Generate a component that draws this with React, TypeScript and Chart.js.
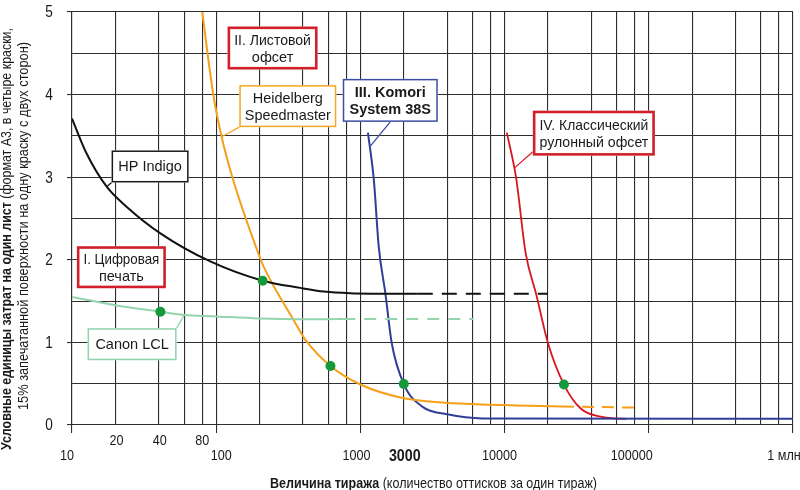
import React, { useEffect, useRef } from 'react';
import { Chart, registerables } from 'chart.js';

Chart.register(...registerables);

// ---------- data ----------
const hpX = [10, 12.6, 17.4, 24, 41, 91, 210, 383, 560, 850, 1200, 2500, 20000];
const hpY = [3.71, 3.29, 2.885, 2.64, 2.32, 1.98, 1.747, 1.66, 1.615, 1.594, 1.59, 1.59, 1.59];
const HP_DASH_FROM = 11;

const canonX = [10, 20, 41, 58, 100, 200, 400, 760, 6100];
const canonY = [1.55, 1.45, 1.372, 1.335, 1.315, 1.29, 1.28, 1.283, 1.283];
const CANON_DASH_FROM = 7;

const heidX = [80, 95.5, 109, 131, 192, 213, 344, 416, 620, 1000, 2050, 4940, 15000, 25000, 86500];
const heidY = [5.0, 4.0, 3.49, 2.97, 2.12, 1.92, 1.27, 1.03, 0.714, 0.49, 0.32, 0.26, 0.234, 0.225, 0.21];
const HEID_DASH_FROM = 13;

const komoriX = [1128, 1239, 1340, 1490, 1650, 2000, 2700, 4000, 7000, 1000000];
const komoriY = [3.54, 2.97, 2.16, 1.594, 0.99, 0.496, 0.22, 0.13, 0.08, 0.075];

const webX = [10360, 12000, 14000, 16500, 20000, 25800, 33700, 46400, 60500, 70000];
const webY = [3.54, 3.0, 2.08, 1.594, 0.99, 0.49, 0.2, 0.1, 0.078, 0.075];

const dotX = [41, 210, 620, 2000, 25800];
const dotY = [1.372, 1.747, 0.714, 0.496, 0.49];

// grid / tick values
const GRID_VALUES = [
  10, 20, 40, 60, 80,
  100, 200, 400, 600, 800,
  1000, 2000, 4000, 6000, 8000,
  10000, 20000, 40000, 60000, 80000,
  100000, 200000, 400000, 600000, 800000,
  1000000,
];
const MAJOR_VALUES = [10, 100, 1000, 10000, 100000, 1000000];
const X_TICK_AT = [10, 20, 40, 80, 100, 1000, 2000, 10000, 100000, 1000000];
const X_TICK_LABELS = ['10', '20', '40', '80', '100', '1000', '3000', '10000', '100000', '1 млн'];
const Y_TICKS = [0, 1, 2, 3, 4, 5];

// annotations
const NOTE_TEXT = [
  ['HP Indigo'],
  ['I. Цифровая', 'печать'],
  ['Canon LCL'],
  ['II. Листовой', 'офсет'],
  ['Heidelberg', 'Speedmaster'],
  ['III. Komori', 'System 38S'],
  ['IV. Классический', 'рулонный офсет'],
];
const NOTE_AT_X = [34.8, 22.0, 26.1, 246, 313.7, 1611, 41590];
const NOTE_AT_Y = [3.13, 1.91, 0.978, 4.564, 3.86, 3.93, 3.533];
const NOTE_POINT_X = [17.4, null, 60, null, 109, 1176, 11670];
const NOTE_POINT_Y = [2.885, null, 1.33, null, 3.49, 3.38, 3.11];

// ---------- styles ----------
const FONT = '"Liberation Sans", Arial, Helvetica, sans-serif';
const GRID = '#2e2e2e';
const CLEAR = 'rgba(0,0,0,0)';
const RED = '#d2202a';

const X_TICK_STYLE = [
  { row: 1, dx: -5, bold: false },
  { row: 0, dx: 1, bold: false },
  { row: 0, dx: 1, bold: false },
  { row: 0, dx: 0, bold: false },
  { row: 1, dx: 5, bold: false },
  { row: 1, dx: -4, bold: false },
  { row: 1, dx: 1, bold: true },
  { row: 1, dx: -5, bold: false },
  { row: 1, dx: -17, bold: false },
  { row: 1, dx: -9, bold: false },
];

const NOTE_STYLE = [
  { w: 77, h: 32, color: '#1a1a1a', lw: 1.5, bold: false, lead: [-38.5, 16] },
  { w: 89, h: 42, color: RED, lw: 2.6, bold: false, lead: null },
  { w: 89, h: 32, color: '#8fd3aa', lw: 1.5, bold: false, lead: [44.5, -16] },
  { w: 90, h: 43, color: RED, lw: 2.6, bold: false, lead: null },
  { w: 97, h: 42, color: '#f5a623', lw: 1.5, bold: false, lead: [-48.5, 21] },
  { w: 95, h: 43, color: '#3d4da3', lw: 1.5, bold: true, lead: [0, 21.5] },
  { w: 122, h: 45, color: RED, lw: 2.6, bold: false, lead: [-61, 18.5] },
];

const pts = (xs: number[], ys: number[]) => xs.map((x, i) => ({ x, y: ys[i] }));

function drawScaled(ctx: CanvasRenderingContext2D, text: string, x: number, y: number, font: string, sx: number) {
  ctx.save();
  ctx.font = font;
  ctx.translate(x, y);
  ctx.scale(sx, 1);
  ctx.textAlign = 'center';
  ctx.textBaseline = 'middle';
  ctx.fillStyle = '#1a1a1a';
  ctx.fillText(text, 0, 0);
  ctx.restore();
}

type Part = { t: string; bold: boolean };
function drawRich(ctx: CanvasRenderingContext2D, parts: Part[], size: number, targetW: number) {
  const fonts = parts.map((p) => `${p.bold ? 'bold ' : ''}${size}px ${FONT}`);
  let total = 0;
  const widths = parts.map((p, i) => {
    ctx.font = fonts[i];
    const w = ctx.measureText(p.t).width;
    total += w;
    return w;
  });
  const s = targetW / total;
  ctx.scale(s, 1);
  ctx.textAlign = 'left';
  ctx.textBaseline = 'middle';
  ctx.fillStyle = '#1a1a1a';
  let cx = 0;
  parts.forEach((p, i) => {
    ctx.font = fonts[i];
    ctx.fillText(p.t, cx, 0);
    cx += widths[i];
  });
}

const notesPlugin = {
  id: 'notes',
  afterDatasetsDraw(chart: any) {
    const { ctx } = chart;
    const xs = chart.scales.x;
    const ys = chart.scales.y;
    NOTE_TEXT.forEach((lines, i) => {
      const st = NOTE_STYLE[i];
      const cx = xs.getPixelForValue(NOTE_AT_X[i]);
      const cy = ys.getPixelForValue(NOTE_AT_Y[i]);
      ctx.save();
      const px = NOTE_POINT_X[i];
      const py = NOTE_POINT_Y[i];
      if (st.lead && px != null && py != null) {
        ctx.beginPath();
        ctx.moveTo(cx + st.lead[0], cy + st.lead[1]);
        ctx.lineTo(xs.getPixelForValue(px), ys.getPixelForValue(py));
        ctx.strokeStyle = st.color;
        ctx.lineWidth = 1.3;
        ctx.stroke();
      }
      const l = cx - st.w / 2;
      const t = cy - st.h / 2;
      ctx.fillStyle = '#ffffff';
      ctx.fillRect(l, t, st.w, st.h);
      ctx.strokeStyle = st.color;
      ctx.lineWidth = st.lw;
      ctx.strokeRect(l + st.lw / 2, t + st.lw / 2, st.w - st.lw, st.h - st.lw);
      ctx.fillStyle = '#1a1a1a';
      ctx.font = `${st.bold ? 'bold ' : ''}14.5px ${FONT}`;
      ctx.textAlign = 'center';
      ctx.textBaseline = 'middle';
      const n = lines.length;
      lines.forEach((line, j) => {
        const maxW = st.w - st.lw * 2 - 8;
        const w = ctx.measureText(line).width;
        const sx = w > maxW ? maxW / w : 1;
        ctx.save();
        ctx.translate(cx, cy + 1 + (j - (n - 1) / 2) * 17);
        ctx.scale(sx, 1);
        ctx.fillText(line, 0, 0);
        ctx.restore();
      });
      ctx.restore();
    });
  },
};

const labelsPlugin = {
  id: 'axisLabels',
  afterDraw(chart: any) {
    const { ctx, chartArea } = chart;
    const xs = chart.scales.x;
    const ys = chart.scales.y;
    Y_TICKS.forEach((v) => {
      drawScaled(ctx, String(v), 49, ys.getPixelForValue(v) + 1, `16px ${FONT}`, 0.85);
    });
    X_TICK_AT.forEach((v, i) => {
      const st = X_TICK_STYLE[i];
      const px = xs.getPixelForValue(v) + st.dx;
      const py = chartArea.bottom + (st.row === 0 ? 16 : 31);
      const font = st.bold ? `bold 17px ${FONT}` : `15px ${FONT}`;
      drawScaled(ctx, X_TICK_LABELS[i], px, py, font, 0.84);
    });
    ctx.save();
    ctx.translate(270, 484);
    drawRich(
      ctx,
      [
        { t: 'Величина тиража ', bold: true },
        { t: '(количество оттисков за один тираж)', bold: false },
      ],
      14,
      327
    );
    ctx.restore();
    ctx.save();
    ctx.translate(7.5, 450);
    ctx.rotate(-Math.PI / 2);
    drawRich(
      ctx,
      [
        { t: 'Условные единицы затрат на один лист ', bold: true },
        { t: '(формат А3, в четыре краски,', bold: false },
      ],
      14,
      422
    );
    ctx.restore();
    ctx.save();
    ctx.translate(24.5, 410);
    ctx.rotate(-Math.PI / 2);
    drawRich(ctx, [{ t: '15% запечатанной поверхности на одну краску с двух сторон)', bold: false }], 14, 368);
    ctx.restore();
  },
};

function lineSet(label: string, xs: number[], ys: number[], color: string, width: number, dashFrom: number | null, dash: number[]) {
  return {
    label,
    data: pts(xs, ys),
    borderColor: color,
    borderWidth: width,
    pointRadius: 0,
    fill: false,
    cubicInterpolationMode: 'monotone' as const,
    order: 2,
    segment: {
      borderDash: (c: any) => (dashFrom != null && c.p0DataIndex >= dashFrom ? dash : undefined),
    },
  };
}

export default function App() {
  const ref = useRef<HTMLCanvasElement | null>(null);

  useEffect(() => {
    if (!ref.current) return;
    const datasets: any[] = [
      {
        label: 'points',
        data: pts(dotX, dotY),
        showLine: false,
        pointRadius: 5,
        pointBackgroundColor: '#16993a',
        pointBorderWidth: 0,
        order: 0,
      },
      lineSet('HP Indigo', hpX, hpY, '#111111', 2, HP_DASH_FROM, [15, 9]),
      lineSet('Canon LCL', canonX, canonY, '#93d4ac', 2, CANON_DASH_FROM, [12, 9]),
      lineSet('Heidelberg Speedmaster', heidX, heidY, '#f59f1a', 2, HEID_DASH_FROM, [12, 8]),
      lineSet('Komori System 38S', komoriX, komoriY, '#2f3f98', 2, null, []),
      lineSet('Рулонный офсет', webX, webY, '#d9161e', 1.8, null, []),
    ];

    const chart = new Chart(ref.current, {
      type: 'line',
      data: { datasets },
      options: {
        animation: false,
        responsive: true,
        maintainAspectRatio: false,
        events: [],
        layout: { padding: { left: 67, right: 7, top: 12, bottom: 57 } },
        plugins: { legend: { display: false }, tooltip: { enabled: false } },
        scales: {
          x: {
            type: 'logarithmic',
            min: 10,
            max: 1000000,
            afterBuildTicks: (s: any) => {
              s.ticks = GRID_VALUES.map((v) => ({ value: v }));
            },
            ticks: { display: false },
            grid: {
              color: GRID,
              lineWidth: 1.1,
              drawTicks: true,
              tickLength: 8,
              tickColor: (c: any) => (MAJOR_VALUES.includes(c.tick?.value) ? GRID : CLEAR),
            },
            border: { display: true, color: GRID, width: 1.1 },
          },
          y: {
            type: 'linear',
            min: 0,
            max: 5,
            ticks: { display: false, stepSize: 0.5 },
            grid: {
              color: GRID,
              lineWidth: 1.1,
              drawTicks: true,
              tickLength: 5,
              tickColor: (c: any) => (Number.isInteger(c.tick?.value) ? GRID : CLEAR),
            },
            border: { display: true, color: GRID, width: 1.1 },
          },
        },
      } as any,
      plugins: [notesPlugin, labelsPlugin],
    });
    return () => chart.destroy();
  }, []);

  return (
    <div style={{ position: 'absolute', left: 0, top: 0, width: 800, height: 490, background: '#fff' }}>
      <canvas ref={ref} />
    </div>
  );
}
